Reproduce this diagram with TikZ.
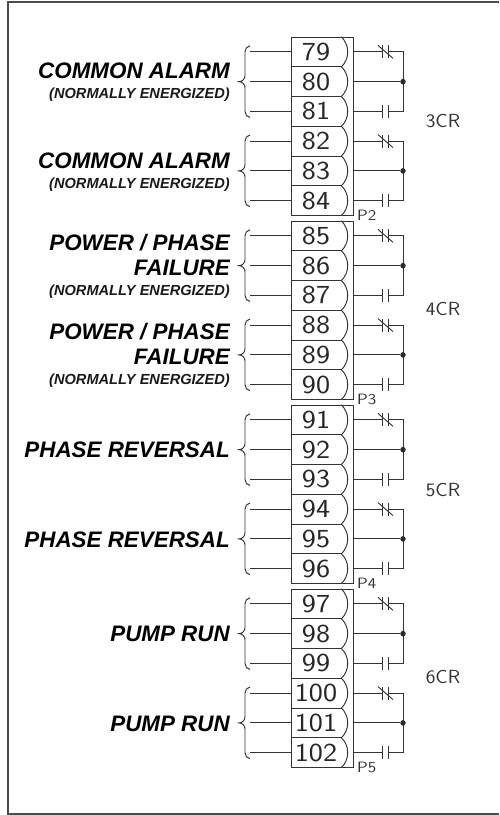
\documentclass[tikz,border=0pt]{standalone}
\usepackage{fontspec}
\setmainfont{Liberation Sans}
\newcommand{\widetext}[2]{\scalebox{#1}[1]{#2}}
\tikzset{
  x=1pt,y=-1pt,
  wire/.style={draw=black!80,line width=0.95pt},
  frameline/.style={draw=black!70,line width=1.2pt},
  term/.style={inner sep=0pt,minimum width=50pt,minimum height=29.75pt,text=black!85,font=\sffamily\fontsize{26}{26}\selectfont},
  biglabel/.style={anchor=base east,inner sep=0pt,font=\bfseries\itshape\fontsize{22.4}{22.4}\selectfont},
  smalllabel/.style={anchor=base east,inner sep=0pt,font=\bfseries\itshape\fontsize{14.6}{14.6}\selectfont,text=black!90},
  plabel/.style={anchor=base west,inner sep=0pt,text=black!80,font=\sffamily\fontsize{15}{15}\selectfont},
  crlabel/.style={inner sep=0pt,text=black!80,font=\sffamily\fontsize{19}{19}\selectfont},
  joindot/.style={circle,fill=black!85,inner sep=0pt,minimum size=5.5pt},
}
\begin{document}
\begin{tikzpicture}
\useasboundingbox (0,0) rectangle (499,815);
\draw[frameline] (499,2) -- (8,2) -- (8,814) -- (499,814);
% terminal blocks: first number, top y, P label, CR label
\foreach \first/\top/\pl/\cr/\cry in {79/37/P2/3CR/121,85/221/P3/4CR/309,91/405/P4/5CR/490,97/589/P5/6CR/677}{
  \coordinate (bTL\first) at (291,\top);
  \coordinate (bBR\first) at (353,\top+178.5);
  \draw[wire] (bTL\first) rectangle (bBR\first);
  \node[plabel] (lab\pl) at (357,\top+183.5) {\widetext{1.15}{\pl}};
  \node[crlabel] (lab\cr) at (443,\cry) {\widetext{1.08}{\cr}};
  % two contact groups of three terminals
  \foreach \g in {0,1}{
    \pgfmathtruncatemacro{\na}{\first+3*\g}
    \pgfmathtruncatemacro{\nb}{\na+1}
    \pgfmathtruncatemacro{\nc}{\na+2}
    \pgfmathsetmacro{\ya}{\top+14.875+89.25*\g}
    \pgfmathsetmacro{\yb}{\ya+29.75}
    \pgfmathsetmacro{\yc}{\ya+59.5}
    \foreach \n/\y in {\na/\ya,\nb/\yb,\nc/\yc}{
      \node[term] (t\n) at (316,\y) {\widetext{1.15}{\n}};
      \coordinate (lw\n) at (250,\y);
      \coordinate (rw\n) at (353,\y);
      \draw[wire] (lw\n) -- (t\n.west);
      \draw[wire] (t\n.north east) .. controls ++(8.7,8) and ++(8.7,-8) .. (t\n.south east);
      \draw[wire] (t\n.south west) -- (t\n.south east);
    }
    % brace
    \coordinate (btop\na) at (250,\ya-6);
    \coordinate (bbot\na) at (250,\yc+6);
    \coordinate (btip\na) at (239,\yb);
    \draw[wire] (btop\na) to[out=180,in=90] (245,\ya) -- (245,\yb-6) to[out=-90,in=0] (btip\na)
      to[out=0,in=90] (245,\yb+6) -- (245,\yc) to[out=-90,in=180] (bbot\na);
    % contacts
    \coordinate (ja\na) at (382.5,\ya);
    \coordinate (jb\na) at (388.5,\ya);
    \coordinate (ka\na) at (382.5,\yc);
    \coordinate (kb\na) at (388.5,\yc);
    \coordinate (ca\na) at (403,\ya);
    \coordinate (cc\na) at (403,\yc);
    \node[joindot] (dot\na) at (403,\yb) {};
    \draw[wire] (rw\na) -- (ja\na) ++(0,-6.5) -- ++(0,13);
    \draw[wire] (jb\na) ++(0,-6.5) -- ++(0,13);
    \draw[wire] (378,\ya-6.5) -- (393,\ya+6.5);
    \draw[wire] (jb\na) -- (ca\na) -- (cc\na) -- (kb\na) ++(0,-6.5) -- ++(0,13);
    \draw[wire] (rw\nc) -- (ka\na) ++(0,-6.5) -- ++(0,13);
    \draw[wire] (rw\nb) -- (dot\na);
  }
}
% labels
\node[biglabel] (ca1) at (230,78) {COMMON ALARM};
\node[smalllabel] (ca1s) at (230,98.5) {(NORMALLY ENERGIZED)};
\node[biglabel] (ca2) at (230,168) {COMMON ALARM};
\node[smalllabel] (ca2s) at (230,188) {(NORMALLY ENERGIZED)};
\node[biglabel] (pp1a) at (230,250) {POWER / PHASE};
\node[biglabel] (pp1b) at (230,275) {FAILURE};
\node[smalllabel] (pp1s) at (230,295) {(NORMALLY ENERGIZED)};
\node[biglabel] (pp2a) at (230,339) {POWER / PHASE};
\node[biglabel] (pp2b) at (230,364) {FAILURE};
\node[smalllabel] (pp2s) at (230,384) {(NORMALLY ENERGIZED)};
\node[biglabel] (pr1) at (230,457) {PHASE REVERSAL};
\node[biglabel] (pr2) at (230,547) {PHASE REVERSAL};
\node[biglabel] (pu1) at (230,641) {PUMP RUN};
\node[biglabel] (pu2) at (230,731) {PUMP RUN};
\end{tikzpicture}
\end{document}
